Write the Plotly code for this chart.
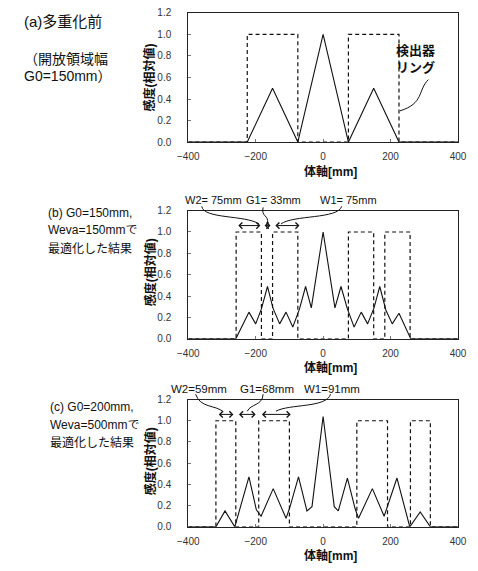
import plotly.graph_objects as go

# ---------------- data ----------------
# (a) before multiplexing
a_x = [-400, -225, -150, -75, 0, 75, 150, 225, 400]
a_y = [0.0, 0.0, 0.5, 0.0, 1.0, 0.0, 0.5, 0.0, 0.0]
a_ring_edges = [-225, -75, 75, 225]

# (b) G0=150, Weva=150 optimized
b_x = [-400, -259, -220, -200, -183, -165, -149, -129, -110, -90, -70, -52, -35, 0,
       35, 53, 72, 92, 113, 132, 151, 168, 186, 205, 225, 260, 400]
b_y = [0.0, 0.0, 0.25, 0.14, 0.28, 0.49, 0.29, 0.14, 0.25, 0.11, 0.28, 0.49, 0.29, 1.0,
       0.29, 0.49, 0.28, 0.11, 0.25, 0.14, 0.29, 0.49, 0.27, 0.14, 0.24, 0.0, 0.0]
b_ring_edges = [-258, -183, -150, -75, 75, 150, 183, 258]

# (c) G0=200, Weva=500 optimized
c_x = [-400, -318, -291, -262, -220, -198, -184, -148, -110, -100, -73, -48, -33, 0,
       33, 45, 72, 95, 105, 146, 181, 191, 219, 257, 288, 318, 400]
c_y = [0.0, 0.0, 0.15, 0.0, 0.47, 0.16, 0.10, 0.36, 0.08, 0.17, 0.47, 0.15, 0.19, 1.04,
       0.19, 0.15, 0.46, 0.17, 0.08, 0.36, 0.10, 0.20, 0.46, 0.0, 0.14, 0.0, 0.0]
c_ring_edges = [-318, -259, -191, -100, 100, 191, 259, 318]

ring_height = 1.0
x_ticks = [-400, -200, 0, 200, 400]
y_ticks = [0.0, 0.2, 0.4, 0.6, 0.8, 1.0, 1.2]

# width arrows (start, end) per panel
b_arrows = [(-256, -186), (-178, -156), (-146, -70)]
c_arrows = [(-314, -266), (-254, -200), (-186, -96)]
arrow_y = 1.06

# ---------------- layout geometry ----------------
W, H = 478, 571
XDOM = [185 / W, 466.5 / W]
YDOMS = {
    1: [1 - 139 / H, 1 - 7 / H],
    2: [1 - 340 / H, 1 - 209 / H],
    3: [1 - 532 / H, 1 - 402 / H],
}
XR = [-400, 400]
YR = [0, 1.2]


def to_paper(k, x, y):
    px = XDOM[0] + (x - XR[0]) / (XR[1] - XR[0]) * (XDOM[1] - XDOM[0])
    d = YDOMS[k]
    py = d[0] + (y - YR[0]) / (YR[1] - YR[0]) * (d[1] - d[0])
    return px, py


def ring_path(edges, h):
    xs, ys = [XR[0]], [0]
    for i in range(0, len(edges), 2):
        l, r = edges[i], edges[i + 1]
        xs += [l, l, r, r]
        ys += [0, h, h, 0]
    xs.append(XR[1])
    ys.append(0)
    return xs, ys


fig = go.Figure()
panels = [(1, a_x, a_y, a_ring_edges), (2, b_x, b_y, b_ring_edges), (3, c_x, c_y, c_ring_edges)]
for k, xs, ys, edges in panels:
    sfx = "" if k == 1 else str(k)
    rx, ry = ring_path(edges, ring_height)
    fig.add_trace(go.Scatter(x=rx, y=ry, mode="lines", xaxis="x" + sfx, yaxis="y" + sfx,
                             line=dict(color="#111", width=1.2, dash="4px,3px"),
                             showlegend=False, hoverinfo="skip"))
    fig.add_trace(go.Scatter(x=xs, y=ys, mode="lines", xaxis="x" + sfx, yaxis="y" + sfx,
                             line=dict(color="#111", width=1.1),
                             showlegend=False, hoverinfo="skip"))

FONT = "Liberation Sans, Arial, Noto Sans CJK JP, sans-serif"
axis_common = dict(showgrid=False, zeroline=False, showline=True, linecolor="#222",
                   linewidth=1, mirror=True, ticks="inside", ticklen=3, tickcolor="#777",
                   tickfont=dict(family="Liberation Sans, Arial", size=10, color="#333"))
layout = dict(width=W, height=H, margin=dict(l=0, r=0, t=0, b=0),
              plot_bgcolor="white", paper_bgcolor="white", showlegend=False,
              font=dict(family=FONT, color="#111"))
for k in (1, 2, 3):
    sfx = "" if k == 1 else str(k)
    layout["xaxis" + sfx] = dict(domain=XDOM, range=XR, tickvals=x_ticks,
                                 anchor="y" + sfx, ticklabelstandoff=5, **axis_common)
    layout["yaxis" + sfx] = dict(domain=YDOMS[k], range=YR, tickvals=y_ticks,
                                 tickformat=".1f", anchor="x" + sfx,
                                 ticklabelstandoff=14, **axis_common)
fig.update_layout(**layout)

ann = []
shapes = []


def ptxt(text, px, py, size=13, xanchor="left", bold=False, angle=0):
    t = "<b>" + text + "</b>" if bold else text
    ann.append(dict(text=t, x=px / W, y=1 - py / H, xref="paper", yref="paper",
                    xanchor=xanchor, yanchor="middle", showarrow=False, textangle=angle,
                    font=dict(size=size, family=FONT, color="#111")))


# left descriptions
ptxt("(a)多重化前", 12, 16, 15)
ptxt("（開放領域幅", 12, 54, 14)
ptxt("G0=150mm）", 12, 72, 14)
ptxt("(b) G0=150mm,", 37, 211, 12)
ptxt("Weva=150mmで", 37, 229, 12)
ptxt("最適化した結果", 37, 248, 12)
ptxt("(c) G0=200mm,", 39, 410, 12)
ptxt("Weva=500mmで", 39, 428, 12)
ptxt("最適化した結果", 39, 446, 12)

# axis titles
for k, ycen, xt_y in [(1, 73, 169), (2, 272, 369), (3, 465, 561)]:
    ptxt("感度(相対値)", 145, ycen, 12, xanchor="center", angle=-90, bold=True)
    ptxt("体軸[mm]", 333, xt_y, 12, xanchor="center", bold=True)

# detector ring label
ptxt("検出器", 422, 45, 13, xanchor="center", bold=True)
ptxt("リング", 422, 63, 13, xanchor="center", bold=True)

# width labels
ptxt("W2= 75mm", 180, 198, 11)
ptxt("G1= 33mm", 243, 198, 11)
ptxt("W1= 75mm", 320, 198, 11)
ptxt("W2=59mm", 165, 391, 11.5)
ptxt("G1=68mm", 237, 391, 11.5)
ptxt("W1=91mm", 304, 391, 11.5)


def curve(k, pts):
    p = [to_paper(k, x, y) for x, y in pts]
    d = "M{:.4f},{:.4f} C{:.4f},{:.4f} {:.4f},{:.4f} {:.4f},{:.4f}".format(
        p[0][0], p[0][1], p[1][0], p[1][1], p[2][0], p[2][1], p[3][0], p[3][1])
    shapes.append(dict(type="path", path=d, xref="paper", yref="paper",
                       line=dict(color="#111", width=1)))


# detector ring leader (S-curve)
curve(1, [(312, 0.58), (280, 0.48), (300, 0.36), (228, 0.29)])
# (b) leaders
curve(2, [(-360, 1.24), (-355, 1.12), (-230, 1.16), (-190, 1.075)])
curve(2, [(-178, 1.23), (-185, 1.14), (-160, 1.16), (-165, 1.08)])
curve(2, [(55, 1.24), (45, 1.12), (-90, 1.16), (-125, 1.075)])
# (c) leaders
curve(3, [(-378, 1.25), (-365, 1.12), (-320, 1.15), (-296, 1.085)])
curve(3, [(-178, 1.25), (-180, 1.14), (-215, 1.16), (-225, 1.09)])
curve(3, [(22, 1.25), (10, 1.12), (-100, 1.16), (-140, 1.09)])

for k, arrows in [(2, b_arrows), (3, c_arrows)]:
    sfx = "" if k == 1 else str(k)
    for x0, x1 in arrows:
        ann.append(dict(x=x1, y=arrow_y, ax=x0, ay=arrow_y, xref="x" + sfx, yref="y" + sfx,
                        axref="x" + sfx, ayref="y" + sfx, text="", showarrow=True,
                        arrowhead=4, startarrowhead=4, arrowside="end+start",
                        arrowsize=1.2, arrowwidth=1, arrowcolor="#111"))

fig.update_layout(annotations=ann, shapes=shapes)
fig.write_html("out.html", config={"displayModeBar": False},
               post_script="document.body.style.margin='0';document.body.style.overflow='hidden';")
